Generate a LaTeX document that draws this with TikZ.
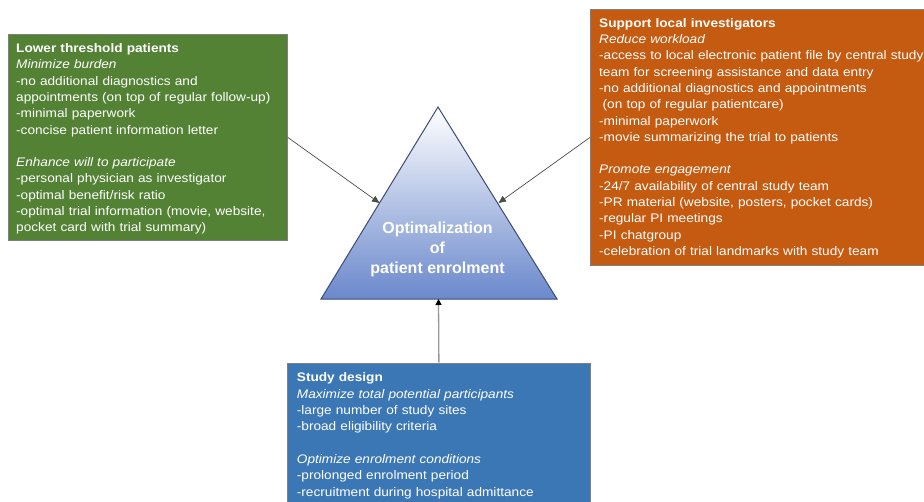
\documentclass[tikz,border=0pt]{standalone}
\usepackage{fontspec}
\setmainfont{Liberation Sans}
\newfontfamily\boxfont{Liberation Sans}[FakeStretch=1.1]
\usetikzlibrary{arrows.meta}
\definecolor{gbox}{HTML}{548235}
\definecolor{obox}{HTML}{C55A11}
\definecolor{bbox}{HTML}{3C77B5}
\definecolor{triline}{HTML}{3B4B73}
\definecolor{tribot}{HTML}{6A88CC}
\definecolor{trimid}{HTML}{C4D2EF}
\definecolor{boxline}{HTML}{7F7F7F}
\begin{document}
\begin{tikzpicture}[x=1pt,y=-1pt,
  panel/.style={draw=boxline, line width=0.8pt, anchor=north west, inner sep=0pt},
  paneltext/.style={anchor=north west, inner sep=0pt, text=white, align=left,
    text width=330pt, font=\boxfont\fontsize{12.4}{16.3}\selectfont},
  tritext/.style={anchor=north, inner sep=0pt, text=white, align=center,
    font=\bfseries\fontsize{16}{20.2}\selectfont},
  conn/.style={draw=black!70, line width=0.7pt, -{Triangle[length=7.5pt,width=6.5pt]}},
  connb/.style={draw=black!40, line width=1.3pt, -{Triangle[length=6pt,width=6pt,fill=black,color=black]}}
]
\useasboundingbox (0,0) rectangle (924,501);
\clip (0,0) rectangle (924,501);

% boxes
\node[panel, fill=gbox, minimum width=279pt, minimum height=206pt] (lt) at (8,34) {};
\node[panel, fill=obox, minimum width=340pt, minimum height=256pt] (sl) at (590,9) {};
\node[panel, fill=bbox, minimum width=303pt, minimum height=150pt] (sd) at (287,362.7) {};

% box texts
\node[paneltext] (ltt) at (16,40.3) {\rule{0pt}{12pt}\textbf{Lower threshold patients}\\
\textit{Minimize burden}\\
-no additional diagnostics and\\
appointments (on top of regular follow-up)\\
-minimal paperwork\\
-concise patient information letter\\
~\\
\textit{Enhance will to participate}\\
-personal physician as investigator\\
-optimal benefit/risk ratio\\
-optimal trial information (movie, website,\\
pocket card with trial summary)};

\node[paneltext] (slt) at (599,15) {\rule{0pt}{12pt}\textbf{Support local investigators}\\
\textit{Reduce workload}\\
-access to local electronic patient file by central study\\
team for screening assistance and data entry\\
-no additional diagnostics and appointments\\
\hspace*{0.28em}(on top of regular patientcare)\\
-minimal paperwork\\
-movie summarizing the trial to patients\\
~\\
\textit{Promote engagement}\\
-24/7 availability of central study team\\
-PR material (website, posters, pocket cards)\\
-regular PI meetings\\
-PI chatgroup\\
-celebration of trial landmarks with study team};

\node[paneltext] (sdt) at (296.7,369.7) {\rule{0pt}{12pt}\textbf{Study design}\\
\textit{Maximize total potential participants}\\
-large number of study sites\\
-broad eligibility criteria\\
~\\
\textit{Optimize enrolment conditions}\\
-prolonged enrolment period\\
-recruitment during hospital admittance};

% triangle
\coordinate (apex) at (438,107);
\coordinate (bl) at (321,299);
\coordinate (br) at (557,299);
\coordinate (tl) at (379.5,203);
\coordinate (tr) at (498.5,203);
\coordinate (tb) at (438.5,299);
\shade[top color=white, middle color=trimid, bottom color=tribot] (apex) -- (bl) -- (br) -- cycle;
\draw[triline, line width=1pt, line join=miter] (apex) -- (bl) -- (br) -- cycle;
\node[tritext] (tri) at (437.5,218.5) {\rule{0pt}{14.5pt}Optimalization\\of\\patient enrolment};

% connectors
\draw[conn] (lt.east) -- (tl);
\draw[conn] (sl.west) -- (tr);
\draw[connb] (sd.north) -- (tb);
\end{tikzpicture}
\end{document}
